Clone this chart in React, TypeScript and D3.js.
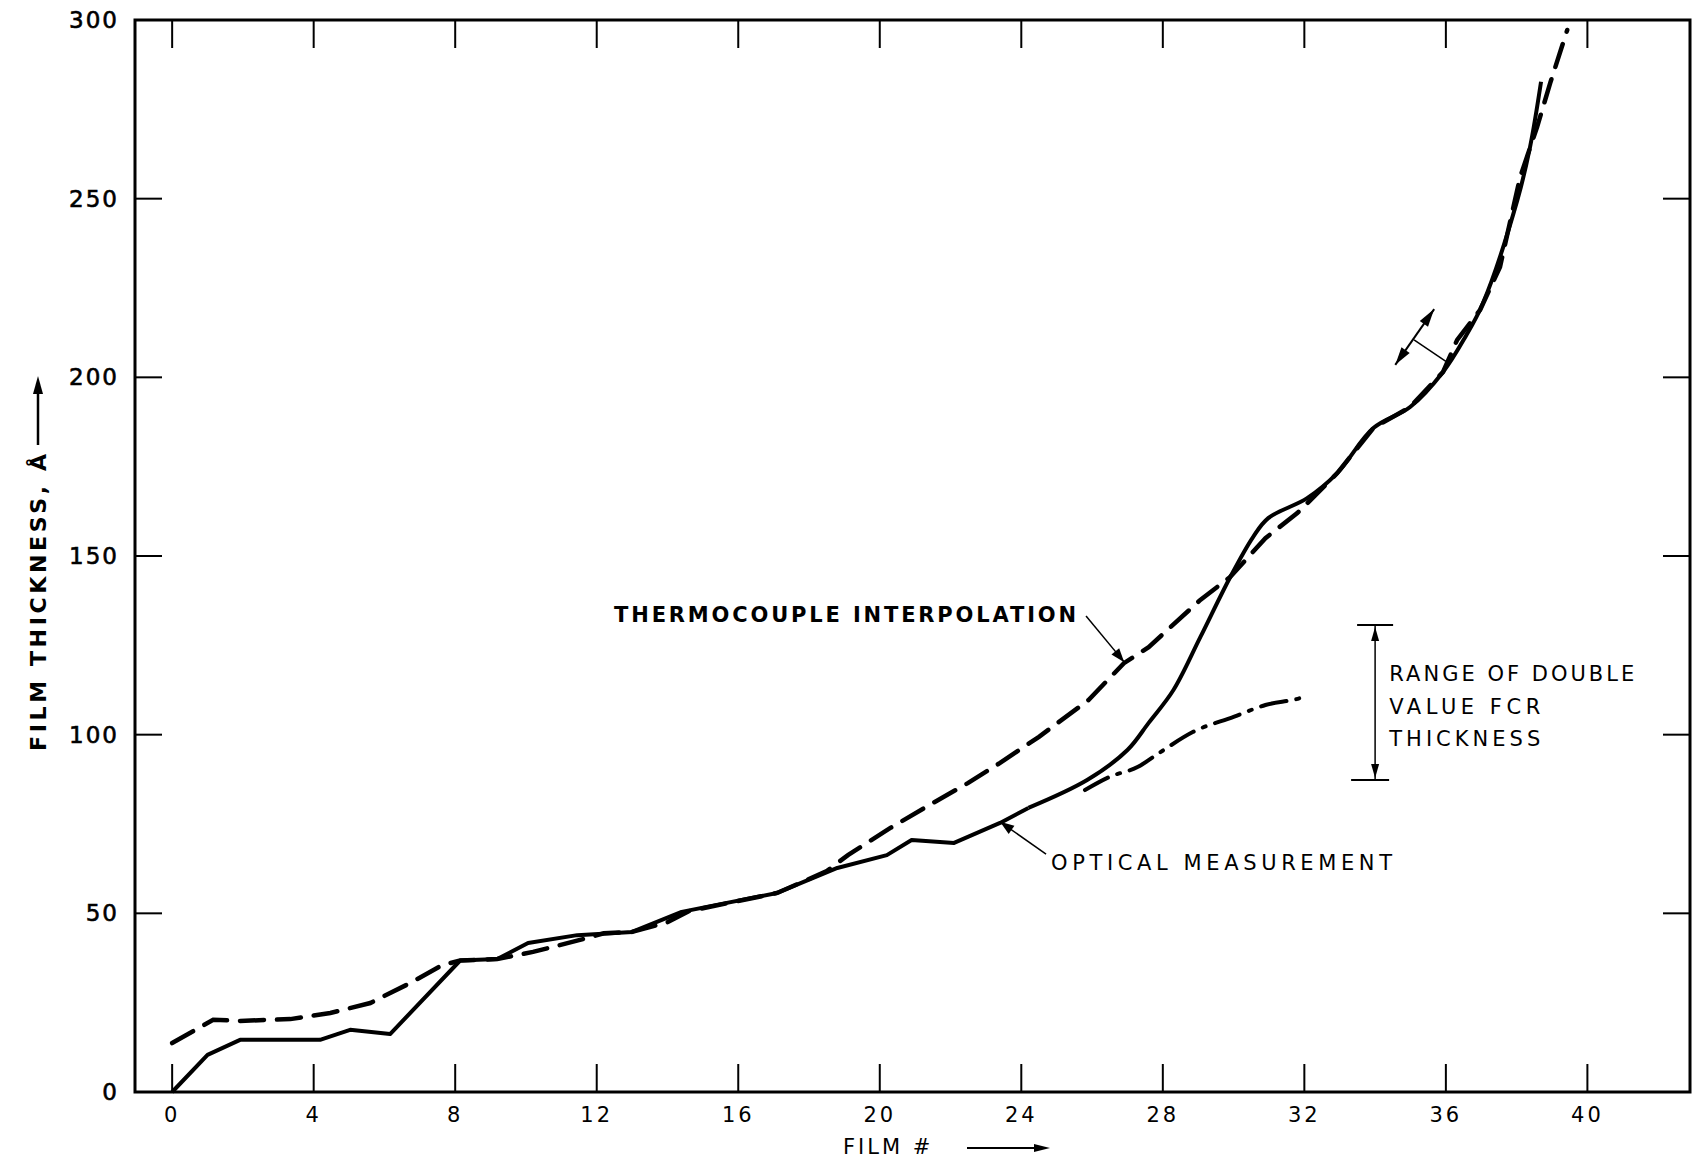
import React from "react";
import * as d3 from "d3";

// ---- data ----
const xTicks = [0, 4, 8, 12, 16, 20, 24, 28, 32, 36, 40];
const yTicks = [0, 50, 100, 150, 200, 250, 300];

const opticalFilm = [0, 1, 1.92, 4.18, 5.03, 6.16, 8.14, 9.19, 10.06, 11.45, 13.0, 14.4, 17.1, 18.8, 20.2, 20.9, 22.1, 23.4, 24.2, 25.86, 27.0, 27.6, 28.3, 29.06, 29.9, 30.55, 30.98, 32.08, 32.93, 33.95, 34.99, 35.92, 36.55, 37.05, 38.02, 38.38, 38.69];
const opticalThk = [0, 10.4, 14.6, 14.6, 17.4, 16.2, 36.8, 37.2, 41.7, 43.9, 44.8, 50.4, 55.7, 62.7, 66.3, 70.5, 69.7, 75.3, 79.5, 87.3, 95.7, 103.3, 112.5, 127.3, 144, 155.3, 160.6, 166.2, 173.2, 185.8, 191.7, 201.5, 211.3, 220.8, 249.6, 264.5, 282.7];
// index where the optical curve turns from straight segments into a smooth sweep
const opticalSmoothFrom = 18;

const thermoFilm = [0, 1.16, 1.92, 3.34, 4.47, 5.6, 6.73, 7.63, 8.14, 9.19, 10.2, 11.5, 12.2, 13.0, 14.0, 14.6, 17.1, 18.5, 19.1, 20.3, 21.4, 22.5, 23.4, 24.5, 25.9, 26.9, 27.6, 29.06, 29.9, 30.9, 31.8, 32.3, 32.93, 33.95, 34.99, 35.92, 36.32, 36.97, 37.53, 38.1, 38.58, 38.95, 39.43];
const thermoThk = [13.7, 20.2, 19.9, 20.4, 22.1, 24.9, 30.5, 35.5, 36.8, 37.2, 39.2, 42.5, 44.4, 44.8, 47.5, 50.6, 55.7, 61.8, 66.3, 73.9, 80.3, 86.5, 92.1, 99.4, 109.7, 120, 124.5, 137.7, 144.1, 155, 162, 166.9, 173.2, 185.8, 191.7, 201.5, 210.5, 218.9, 230.9, 256.1, 270.1, 282.4, 297.2];

const doubleFilm = [25.8, 26.5, 27.3, 27.9, 28.86, 30.0, 30.9, 31.9, 32.1];
const doubleThk = [84.5, 88.2, 91, 94.9, 100.8, 105, 108.3, 110.3, 111];

const labelThermo = "THERMOCOUPLE INTERPOLATION";
const labelOptical = "OPTICAL MEASUREMENT";
const labelRange = ["RANGE OF DOUBLE", "VALUE FCR", "THICKNESS"];
const rangeLineThk = [115, 105.8, 96.8];
const rangeLineLen = [245, 151, 151];

const W = 1695;
const H = 1164;
const FONT = "'DejaVu Sans', sans-serif";

export default function App() {
  const x = d3.scaleLinear().domain([-1.05, 42.9]).range([135, 1690]);
  const y = d3.scaleLinear().domain([0, 300]).range([1092, 20]);

  const toPts = (fs: number[], vs: number[]) => fs.map((f, i) => [f, vs[i]] as [number, number]);
  const lineLin = d3
    .line<[number, number]>()
    .x((d) => x(d[0]))
    .y((d) => y(d[1]))
    .curve(d3.curveLinear);
  const lineSmooth = d3
    .line<[number, number]>()
    .x((d) => x(d[0]))
    .y((d) => y(d[1]))
    .curve(d3.curveMonotoneX);
  const lineCR = d3
    .line<[number, number]>()
    .x((d) => x(d[0]))
    .y((d) => y(d[1]))
    .curve(d3.curveCatmullRom.alpha(0.5));

  const optPts = toPts(opticalFilm, opticalThk);

  const [x0, x1] = x.range();
  const [yb, yt] = y.range();

  const arrowHead = (xa: number, ya: number, xb: number, yb2: number, len = 14, wid = 5) => {
    const ang = Math.atan2(yb2 - ya, xb - xa);
    const bx = xb - len * Math.cos(ang);
    const by = yb2 - len * Math.sin(ang);
    const px = -Math.sin(ang) * wid;
    const py = Math.cos(ang) * wid;
    return `M${xb},${yb2}L${bx + px},${by + py}L${bx - px},${by - py}Z`;
  };

  const ann = (f1: number, v1: number, f2: number, v2: number) => [x(f1), y(v1), x(f2), y(v2)];
  const thermoArrow = ann(25.83, 133.2, 26.91, 120.3);
  const opticalArrow = ann(24.7, 66.6, 23.4, 75.6);
  const dbl = ann(34.57, 203.5, 35.67, 219.1);
  const perp = ann(35.1, 210.5, 36.0, 204.5);
  const rangeX = x(34.0);
  const rangeTop = y(130.7);
  const rangeBot = y(87.3);

  return (
    <svg width={W} height={H} style={{ position: "absolute", left: 0, top: 0, background: "#fff" }}>
      {/* frame */}
      <rect x={x0} y={yt} width={x1 - x0} height={yb - yt} fill="none" stroke="#000" strokeWidth={3} />

      {/* x ticks bottom & top */}
      {xTicks.map((t) => (
        <g key={"xt" + t}>
          <line x1={x(t)} x2={x(t)} y1={yb} y2={yb - 28} stroke="#000" strokeWidth={2} />
          <line x1={x(t)} x2={x(t)} y1={yt} y2={yt + 28} stroke="#000" strokeWidth={2} />
          <text x={x(t)} y={yb + 30} textAnchor="middle" fontFamily={FONT} fontSize={21} letterSpacing={3} fill="#000">
            {t}
          </text>
        </g>
      ))}
      {/* y ticks left & right */}
      {yTicks.map((t) => (
        <g key={"yt" + t}>
          {t > 0 && t < 300 && (
            <>
              <line x1={x0} x2={x0 + 27} y1={y(t)} y2={y(t)} stroke="#000" strokeWidth={2} />
              <line x1={x1} x2={x1 - 27} y1={y(t)} y2={y(t)} stroke="#000" strokeWidth={2} />
            </>
          )}
          <text
            x={x0 - 16}
            y={y(t) + 8}
            textAnchor="end"
            fontFamily={FONT}
            fontSize={23}
            letterSpacing={2}
            fill="#000"
            stroke="#000"
            strokeWidth={0.6}
          >
            {t}
          </text>
        </g>
      ))}

      {/* axis titles */}
      <text x={843} y={1154} fontFamily={FONT} fontSize={21} letterSpacing={3} fill="#000">
        FILM #
      </text>
      <line x1={967} x2={1036} y1={1148} y2={1148} stroke="#000" strokeWidth={2} />
      <path d={arrowHead(967, 1148, 1050, 1148, 16, 4)} fill="#000" />

      <text
        transform="translate(46,751) rotate(-90)"
        fontFamily={FONT}
        fontSize={22}
        fontWeight="bold"
        textLength={297}
        lengthAdjust="spacing"
        fill="#000"
      >
        FILM THICKNESS, Å
      </text>
      <line x1={38} x2={38} y1={445} y2={392} stroke="#000" strokeWidth={2.5} />
      <path d={arrowHead(38, 445, 38, 376, 18, 5)} fill="#000" />

      {/* curves */}
      <path d={lineLin(toPts(thermoFilm, thermoThk)) || ""} fill="none" stroke="#000" strokeWidth={4.5} strokeDasharray="24,13" strokeLinecap="round" />
      <path d={lineLin(optPts.slice(0, opticalSmoothFrom + 1)) || ""} fill="none" stroke="#000" strokeWidth={4} strokeLinejoin="round" />
      <path d={lineCR(optPts.slice(opticalSmoothFrom)) || ""} fill="none" stroke="#000" strokeWidth={4} strokeLinejoin="round" />
      <path d={lineSmooth(toPts(doubleFilm, doubleThk)) || ""} fill="none" stroke="#000" strokeWidth={4} strokeDasharray="26,10,3,10" strokeLinecap="round" />

      {/* annotations */}
      <text x={x(12.49)} y={y(131.5)} fontFamily={FONT} fontSize={21} fontWeight="bold" textLength={462} lengthAdjust="spacing" fill="#000">
        {labelThermo}
      </text>
      <line x1={thermoArrow[0]} y1={thermoArrow[1]} x2={thermoArrow[2]} y2={thermoArrow[3]} stroke="#000" strokeWidth={1.5} />
      <path d={arrowHead(thermoArrow[0], thermoArrow[1], thermoArrow[2], thermoArrow[3])} fill="#000" />

      <text x={x(24.84)} y={y(62.1)} fontFamily={FONT} fontSize={21} textLength={341} lengthAdjust="spacing" fill="#000">
        {labelOptical}
      </text>
      <line x1={opticalArrow[0]} y1={opticalArrow[1]} x2={opticalArrow[2]} y2={opticalArrow[3]} stroke="#000" strokeWidth={1.5} />
      <path d={arrowHead(opticalArrow[0], opticalArrow[1], opticalArrow[2], opticalArrow[3])} fill="#000" />

      {/* range bracket */}
      <line x1={rangeX} x2={rangeX} y1={rangeTop} y2={rangeBot} stroke="#000" strokeWidth={1.5} />
      <line x1={rangeX - 18} x2={rangeX + 18} y1={rangeTop} y2={rangeTop} stroke="#000" strokeWidth={2} />
      <line x1={rangeX - 24} x2={rangeX + 14} y1={rangeBot} y2={rangeBot} stroke="#000" strokeWidth={2} />
      <path d={arrowHead(rangeX, rangeTop + 40, rangeX, rangeTop + 2, 14, 4)} fill="#000" />
      <path d={arrowHead(rangeX, rangeBot - 40, rangeX, rangeBot - 2, 14, 4)} fill="#000" />
      {labelRange.map((s, i) => (
        <text
          key={s}
          x={x(34.4)}
          y={y(rangeLineThk[i])}
          fontFamily={FONT}
          fontSize={21}
          textLength={rangeLineLen[i]}
          lengthAdjust="spacing"
          fill="#000"
        >
          {s}
        </text>
      ))}

      {/* double arrow near top */}
      <line x1={dbl[0]} y1={dbl[1]} x2={dbl[2]} y2={dbl[3]} stroke="#000" strokeWidth={2} />
      <path d={arrowHead(dbl[2], dbl[3], dbl[0], dbl[1], 18, 5)} fill="#000" />
      <path d={arrowHead(dbl[0], dbl[1], dbl[2], dbl[3], 18, 5)} fill="#000" />
      <line x1={perp[0]} y1={perp[1]} x2={perp[2]} y2={perp[3]} stroke="#000" strokeWidth={1.5} />
    </svg>
  );
}
